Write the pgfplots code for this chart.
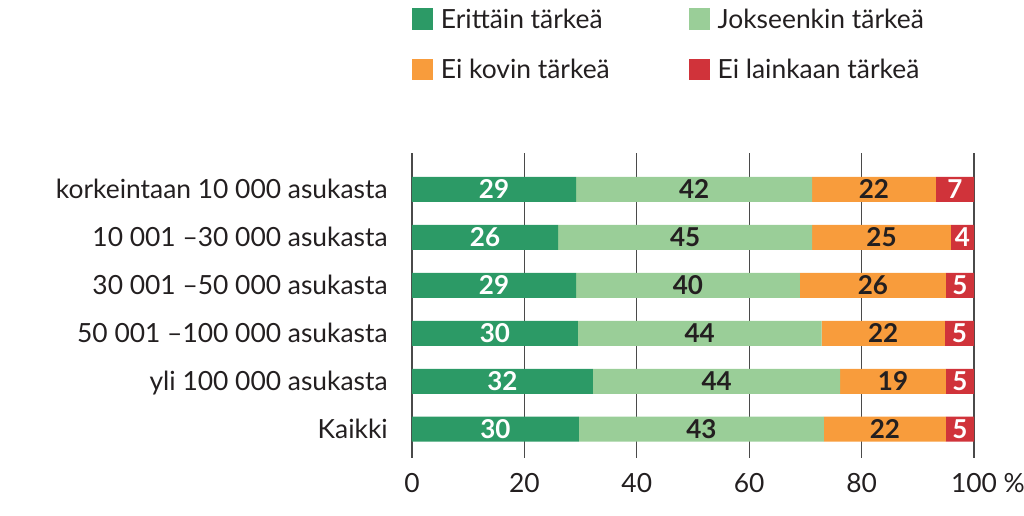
\documentclass[border=0pt]{standalone}
\usepackage{pgfplots}
\pgfplotsset{compat=1.18}
\usepackage{pgfplotstable}
\usepackage{fontspec}
\setmainfont{Lato}

\definecolor{dgreen}{HTML}{2C9A66}
\definecolor{lgreen}{HTML}{9ACE98}
\definecolor{orng}{HTML}{F89C3C}
\definecolor{rred}{HTML}{D0333A}
\definecolor{txt}{HTML}{231F20}
\definecolor{gridc}{HTML}{4A4A4A}
\newcommand\fs{\fontsize{19.8}{22}\selectfont}
\newcommand\fb{\fontsize{19.5}{22}\selectfont\bfseries}

% idx 0 = Kaikki (bottom); bar lengths and printed (rounded) labels
\pgfplotstableread{
idx g    lg   o    r   gl lgl ol rl
5   29.2 42.0 22.0 6.8 29 42  22 7
4   26.0 45.2 24.7 4.1 26 45  25 4
3   29.2 39.8 26.0 5.0 29 40  26 5
2   29.5 43.4 21.9 5.2 30 44  22 5
1   32.2 44.0 18.8 5.0 32 44  19 5
0   29.7 43.6 21.7 5.0 30 43  22 5
}\data

\pgfplotsset{
  sq/.style={legend image code/.code={\fill[##1,draw=none] (0pt,-8.2pt) rectangle (15.5pt,8.2pt);}},
  common/.style={at={(0,0)}, anchor=south west, scale only axis,
    width=421.5pt, height=228.75pt, xmin=0, xmax=100, ymin=-0.6, ymax=5.76},
}

\begin{document}
\begin{tikzpicture}
\begin{axis}[common,
  xbar stacked, bar width=18.75pt,
  axis line style={draw=none}, tick style={draw=none},
  xtick={0,20,...,100}, xticklabels={0,20,40,60,80,100\rlap{\ \%}},
  ytick={0,...,5},
  yticklabels={Kaikki, yli 100 000 asukasta, 50 001 –100 000 asukasta,
    30 001 –50 000 asukasta, 10 001 –30 000 asukasta, korkeintaan 10 000 asukasta},
  xmajorgrids, major grid style={gridc, line width=0.8pt},
  yticklabel style={font=\fs, text=txt, inner sep=0pt, anchor=east, xshift=-18pt,
    text height=18pt, text depth=4pt},
  xticklabel style={font=\fs, text=txt, inner sep=0pt, anchor=north, yshift=-11.25pt,
    text height=14.2pt, text depth=0pt},
  legend columns=2, legend cell align=left,
  legend style={draw=none, fill=none, inner sep=0pt, at={(0,1.489)}, anchor=north west,
    row sep=16pt, font=\fs, text=txt,
    nodes={inner sep=0pt, text height=18pt, text depth=4pt},
    /tikz/every odd column/.append style={column sep=6pt}},
]
\addplot[fill=dgreen, draw=none, sq] table[x=g, y=idx]{\data};
\addlegendentry{\makebox[186pt][l]{Erittäin tärkeä}}
\addplot[fill=lgreen, draw=none, sq] table[x=lg, y=idx]{\data};
\addlegendentry{Jokseenkin tärkeä}
\addplot[fill=orng, draw=none, sq] table[x=o, y=idx]{\data};
\addlegendentry{\makebox[186pt][l]{Ei kovin tärkeä}}
\addplot[fill=rred, draw=none, sq] table[x=r, y=idx]{\data};
\addlegendentry{Ei lainkaan tärkeä}
\end{axis}

% labels centred in each segment
\begin{axis}[common, hide axis,
  nodes near coords, point meta=explicit symbolic,
  every node near coord/.append style={anchor=center, inner sep=0pt, font=\fb,
    text height=18pt, text depth=4pt},
]
\addplot[draw=none, mark=none, every node near coord/.append style={text=white}]
  table[x expr=\thisrow{g}/2, y=idx, meta=gl]{\data};
\addplot[draw=none, mark=none, every node near coord/.append style={text=txt}]
  table[x expr=\thisrow{g}+\thisrow{lg}/2, y=idx, meta=lgl]{\data};
\addplot[draw=none, mark=none, every node near coord/.append style={text=txt}]
  table[x expr=\thisrow{g}+\thisrow{lg}+\thisrow{o}/2, y=idx, meta=ol]{\data};
\addplot[draw=none, mark=none, every node near coord/.append style={text=white}]
  table[x expr=\thisrow{g}+\thisrow{lg}+\thisrow{o}+\thisrow{r}/2, y=idx, meta=rl]{\data};
\end{axis}

\pgfresetboundingbox
\path[use as bounding box] (-309pt,-43.5pt) rectangle (459pt,343.5pt);
\end{tikzpicture}
\end{document}
